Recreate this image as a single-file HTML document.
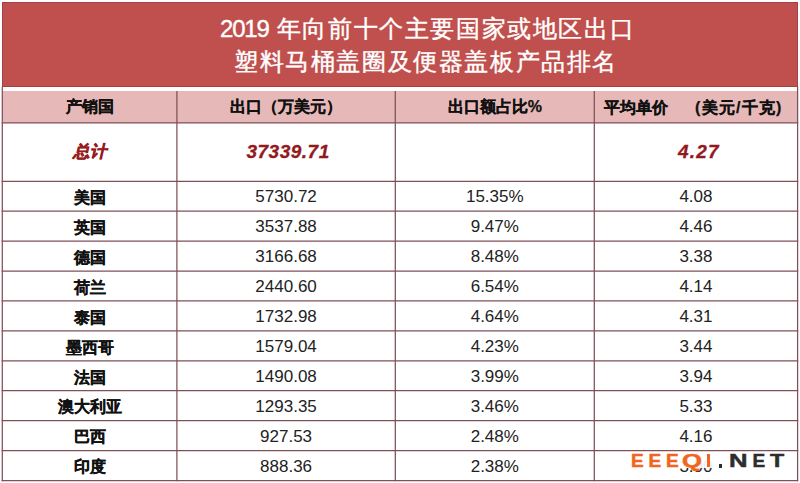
<!DOCTYPE html>
<html><head><meta charset="utf-8">
<style>

html,body{margin:0;padding:0;background:#fff;width:800px;height:483px;overflow:hidden;position:relative;font-family:"Liberation Sans",sans-serif;}
.title{position:absolute;left:2px;top:2px;width:796px;height:85px;background:#c0504d;box-shadow:inset 1px 1px 0 #a8403f, inset -1px -1px 0 #a8403f;}
.tl{position:absolute;color:#fff;font-size:24px;font-weight:400;-webkit-text-stroke:0.4px #fff;letter-spacing:1.6px;white-space:nowrap;line-height:30px;}
.dg{letter-spacing:-1.2px;}
.hdr{position:absolute;left:2px;top:91px;width:796px;height:32px;background:#e6b8b7;}
svg{position:absolute;left:0;top:0;}
.c{position:absolute;white-space:nowrap;text-align:center;display:flex;align-items:center;justify-content:center;box-sizing:border-box;padding-top:2.2px;}
.b{font-weight:bold;color:#111;font-size:16px;-webkit-text-stroke:0.25px #111;}
.hb{font-size:16px;}
.n{color:#222;font-size:17px;}
.r{color:#921a1e;font-weight:bold;font-style:italic;font-size:19px;letter-spacing:0.5px;-webkit-text-stroke:0.3px #921a1e;}
.wm{position:absolute;font-weight:bold;font-size:19px;line-height:22px;white-space:nowrap;-webkit-text-stroke:0.5px currentColor;}

</style></head><body>
<div class="title"></div>
<div class="tl" style="left:220px;top:14px;"><span class="dg">2019</span> 年向前十个主要国家或地区出口</div>
<div class="tl" style="left:234px;top:47px;">塑料马桶盖圈及便器盖板产品排名</div>
<div class="hdr"></div>
<svg width="800" height="483" viewBox="0 0 800 483" shape-rendering="geometricPrecision"><line x1="2.30" y1="86.50" x2="2.30" y2="481.13" stroke="#7f5058" stroke-width="1.25"/><line x1="176.90" y1="91.00" x2="176.90" y2="481.13" stroke="#7f5058" stroke-width="1.25"/><line x1="395.30" y1="91.00" x2="395.30" y2="481.13" stroke="#7f5058" stroke-width="1.25"/><line x1="594.30" y1="91.00" x2="594.30" y2="481.13" stroke="#7f5058" stroke-width="1.25"/><line x1="797.60" y1="86.50" x2="797.60" y2="481.13" stroke="#7f5058" stroke-width="1.25"/><line x1="1.67" y1="122.80" x2="798.23" y2="122.80" stroke="#7f5058" stroke-width="1.25"/><line x1="1.67" y1="181.30" x2="798.23" y2="181.30" stroke="#7f5058" stroke-width="1.25"/><line x1="1.67" y1="211.22" x2="798.23" y2="211.22" stroke="#7f5058" stroke-width="1.25"/><line x1="1.67" y1="241.14" x2="798.23" y2="241.14" stroke="#7f5058" stroke-width="1.25"/><line x1="1.67" y1="271.06" x2="798.23" y2="271.06" stroke="#7f5058" stroke-width="1.25"/><line x1="1.67" y1="300.98" x2="798.23" y2="300.98" stroke="#7f5058" stroke-width="1.25"/><line x1="1.67" y1="330.90" x2="798.23" y2="330.90" stroke="#7f5058" stroke-width="1.25"/><line x1="1.67" y1="360.82" x2="798.23" y2="360.82" stroke="#7f5058" stroke-width="1.25"/><line x1="1.67" y1="390.74" x2="798.23" y2="390.74" stroke="#7f5058" stroke-width="1.25"/><line x1="1.67" y1="420.66" x2="798.23" y2="420.66" stroke="#7f5058" stroke-width="1.25"/><line x1="1.67" y1="450.58" x2="798.23" y2="450.58" stroke="#7f5058" stroke-width="1.25"/><line x1="1.67" y1="480.50" x2="798.23" y2="480.50" stroke="#7f5058" stroke-width="1.25"/></svg>
<div class="c b hb" style="left:2.30px;top:91.00px;width:174.60px;height:31.80px;">产销国</div>
<div class="c b hb" style="left:176.90px;top:91.00px;width:218.40px;height:31.80px;">出口（万美元）</div>
<div class="c b hb" style="left:395.30px;top:91.00px;width:199.00px;height:31.80px;">出口额占比%</div>
<div class="c b hb" style="left:604px;top:91px;height:32px;justify-content:flex-start">平均单价</div>
<div class="c b hb" style="left:695px;top:91px;height:32px;justify-content:flex-start;letter-spacing:1.2px">(美元/千克)</div>
<div class="c r" style="left:2.30px;top:122.80px;width:174.60px;height:58.50px;font-size:16.5px;font-style:normal;padding-left:3px;padding-top:0px;"><span style="display:inline-block;transform:skewX(-13deg);-webkit-text-stroke:0.5px #981b1e">总计</span></div>
<div class="c r" style="left:176.90px;top:122.80px;width:218.40px;height:58.50px;padding-left:4px;padding-top:0px;">37339.71</div>
<div class="c r" style="left:594.30px;top:122.80px;width:203.30px;height:58.50px;padding-left:6px;padding-top:0px;letter-spacing:1.2px;">4.27</div>
<div class="c b" style="left:2.30px;top:181.30px;width:174.60px;height:29.92px;padding-top:4.6px;">美国</div>
<div class="c n" style="left:176.90px;top:181.30px;width:218.40px;height:29.92px;">5730.72</div>
<div class="c n" style="left:395.30px;top:181.30px;width:199.00px;height:29.92px;">15.35%</div>
<div class="c n" style="left:594.30px;top:181.30px;width:203.30px;height:29.92px;">4.08</div>
<div class="c b" style="left:2.30px;top:211.22px;width:174.60px;height:29.92px;padding-top:4.6px;">英国</div>
<div class="c n" style="left:176.90px;top:211.22px;width:218.40px;height:29.92px;">3537.88</div>
<div class="c n" style="left:395.30px;top:211.22px;width:199.00px;height:29.92px;">9.47%</div>
<div class="c n" style="left:594.30px;top:211.22px;width:203.30px;height:29.92px;">4.46</div>
<div class="c b" style="left:2.30px;top:241.14px;width:174.60px;height:29.92px;padding-top:4.6px;">德国</div>
<div class="c n" style="left:176.90px;top:241.14px;width:218.40px;height:29.92px;">3166.68</div>
<div class="c n" style="left:395.30px;top:241.14px;width:199.00px;height:29.92px;">8.48%</div>
<div class="c n" style="left:594.30px;top:241.14px;width:203.30px;height:29.92px;">3.38</div>
<div class="c b" style="left:2.30px;top:271.06px;width:174.60px;height:29.92px;padding-top:4.6px;">荷兰</div>
<div class="c n" style="left:176.90px;top:271.06px;width:218.40px;height:29.92px;">2440.60</div>
<div class="c n" style="left:395.30px;top:271.06px;width:199.00px;height:29.92px;">6.54%</div>
<div class="c n" style="left:594.30px;top:271.06px;width:203.30px;height:29.92px;">4.14</div>
<div class="c b" style="left:2.30px;top:300.98px;width:174.60px;height:29.92px;padding-top:4.6px;">泰国</div>
<div class="c n" style="left:176.90px;top:300.98px;width:218.40px;height:29.92px;">1732.98</div>
<div class="c n" style="left:395.30px;top:300.98px;width:199.00px;height:29.92px;">4.64%</div>
<div class="c n" style="left:594.30px;top:300.98px;width:203.30px;height:29.92px;">4.31</div>
<div class="c b" style="left:2.30px;top:330.90px;width:174.60px;height:29.92px;padding-top:4.6px;">墨西哥</div>
<div class="c n" style="left:176.90px;top:330.90px;width:218.40px;height:29.92px;">1579.04</div>
<div class="c n" style="left:395.30px;top:330.90px;width:199.00px;height:29.92px;">4.23%</div>
<div class="c n" style="left:594.30px;top:330.90px;width:203.30px;height:29.92px;">3.44</div>
<div class="c b" style="left:2.30px;top:360.82px;width:174.60px;height:29.92px;padding-top:4.6px;">法国</div>
<div class="c n" style="left:176.90px;top:360.82px;width:218.40px;height:29.92px;">1490.08</div>
<div class="c n" style="left:395.30px;top:360.82px;width:199.00px;height:29.92px;">3.99%</div>
<div class="c n" style="left:594.30px;top:360.82px;width:203.30px;height:29.92px;">3.94</div>
<div class="c b" style="left:2.30px;top:390.74px;width:174.60px;height:29.92px;padding-top:4.6px;">澳大利亚</div>
<div class="c n" style="left:176.90px;top:390.74px;width:218.40px;height:29.92px;">1293.35</div>
<div class="c n" style="left:395.30px;top:390.74px;width:199.00px;height:29.92px;">3.46%</div>
<div class="c n" style="left:594.30px;top:390.74px;width:203.30px;height:29.92px;">5.33</div>
<div class="c b" style="left:2.30px;top:420.66px;width:174.60px;height:29.92px;padding-top:4.6px;">巴西</div>
<div class="c n" style="left:176.90px;top:420.66px;width:218.40px;height:29.92px;">927.53</div>
<div class="c n" style="left:395.30px;top:420.66px;width:199.00px;height:29.92px;">2.48%</div>
<div class="c n" style="left:594.30px;top:420.66px;width:203.30px;height:29.92px;">4.16</div>
<div class="c b" style="left:2.30px;top:450.58px;width:174.60px;height:29.92px;padding-top:4.6px;">印度</div>
<div class="c n" style="left:176.90px;top:450.58px;width:218.40px;height:29.92px;">888.36</div>
<div class="c n" style="left:395.30px;top:450.58px;width:199.00px;height:29.92px;">2.38%</div>
<div class="c n" style="left:594.30px;top:450.58px;width:203.30px;height:29.92px;">3.90</div>
<div style="position:absolute;left:628px;top:452px;width:160px;height:16px;background:rgba(255,255,255,0.92)"></div>
<div class="wm" style="left:631.0px;top:450px;color:#f0661e;transform:scaleX(1.00);transform-origin:0 0">E</div>
<div class="wm" style="left:648.5px;top:450px;color:#f0661e;transform:scaleX(1.00);transform-origin:0 0">E</div>
<div class="wm" style="left:666.0px;top:450px;color:#f0661e;transform:scaleX(1.00);transform-origin:0 0">E</div>
<div class="wm" style="left:682.0px;top:450px;color:#f0661e;transform:scaleX(1.35);transform-origin:0 0">Q</div>
<div class="wm" style="left:728.5px;top:450px;color:#2d2d2d;transform:scaleX(1.35);transform-origin:0 0">N</div>
<div class="wm" style="left:752.5px;top:450px;color:#2d2d2d;transform:scaleX(1.00);transform-origin:0 0">E</div>
<div class="wm" style="left:769.5px;top:450px;color:#2d2d2d;transform:scaleX(1.22);transform-origin:0 0">T</div>
<div style="position:absolute;left:706.7px;top:453.8px;width:3.8px;height:13.6px;background:#f0661e"></div>
<div style="position:absolute;left:718.6px;top:464px;width:3.6px;height:3.6px;background:#2d2d2d"></div>
</body></html>
